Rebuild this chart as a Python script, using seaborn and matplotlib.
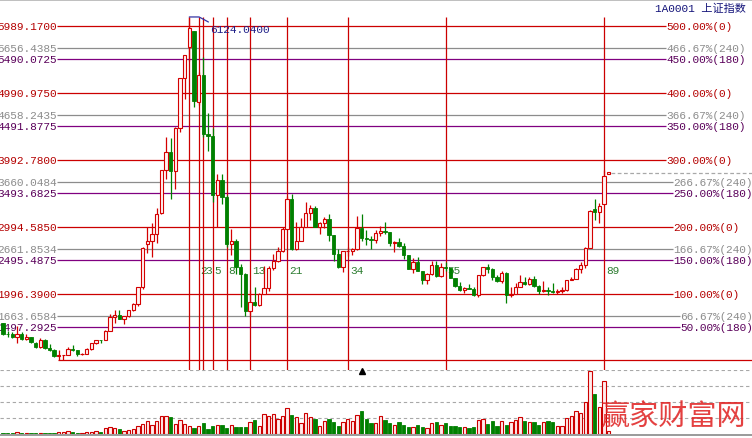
import matplotlib
matplotlib.use("Agg")
import matplotlib.pyplot as plt
from matplotlib.lines import Line2D
import numpy as np
import seaborn as sns

# 1A0001 monthly candles, Jun 2004 .. Apr 2015 (last month only just started)
opens = [1555, 1399, 1386, 1342, 1396, 1320, 1340,
         1261, 1191, 1306, 1181, 1159, 1060, 1080, 1083, 1162, 1155, 1092, 1099,
         1163, 1258, 1299, 1298, 1440, 1641, 1672, 1612, 1658, 1752, 1837, 2099,
         2728, 2786, 2881, 3196, 3841, 4109, 3820, 4471, 5218, 5683, 5914, 4861,
         5265, 4383, 4348, 3473, 3693, 3433, 2736, 2775, 2397, 2293, 1729, 1871,
         1821, 1991, 2082, 2373, 2477, 2633, 2959, 3412, 2668, 2779, 2996, 3195,
         3277, 2989, 3051, 3109, 2870, 2592, 2398, 2637, 2638, 2656, 2979, 2820,
         2808, 2790, 2905, 2928, 2911, 2743, 2762, 2701, 2567, 2359, 2468, 2333,
         2199, 2292, 2428, 2262, 2396, 2373, 2225, 2103, 2047, 2086, 2069, 1980,
         2269, 2385, 2366, 2237, 2178, 2301, 1979, 1994, 2098, 2175, 2141, 2220,
         2116, 2033, 2056, 2033, 2026, 2039, 2048, 2201, 2218, 2364, 2420, 2683,
         3258, 3210, 3332, 3775]
highs = [1561, 1435, 1417, 1512, 1417, 1389, 1343,
         1269, 1328, 1316, 1245, 1163, 1147, 1085, 1192, 1223, 1160, 1109, 1180,
         1260, 1305, 1309, 1445, 1684, 1757, 1754, 1660, 1753, 1848, 2101, 2698,
         2994, 3050, 3274, 3847, 4335, 4311, 4476, 5218, 5559, 6124, 5916, 5303,
         5523, 4695, 4473, 3786, 3786, 3461, 2952, 2810, 2435, 2302, 2050, 2100,
         2006, 2402, 2408, 2579, 2689, 2993, 3454, 3478, 3068, 3123, 3361, 3311,
         3306, 3063, 3138, 3181, 2877, 2655, 2637, 2696, 2682, 3160, 3186, 2951,
         2853, 2940, 3002, 3067, 2912, 2775, 2827, 2744, 2569, 2529, 2536, 2337,
         2301, 2478, 2476, 2454, 2461, 2382, 2227, 2166, 2089, 2133, 2089, 2276,
         2399, 2444, 2370, 2269, 2334, 2313, 2092, 2149, 2270, 2242, 2244, 2260,
         2120, 2177, 2093, 2146, 2061, 2087, 2205, 2248, 2373, 2474, 2693, 3239,
         3406, 3347, 3835, 3815]
lows = [1372, 1350, 1330, 1259, 1300, 1302, 1259,
        1177, 1189, 1166, 1135, 1044, 998, 1004, 1080, 1142, 1068, 1074, 1097,
        1159, 1243, 1261, 1297, 1437, 1550, 1617, 1541, 1643, 1740, 1810, 2071,
        2605, 2541, 2745, 3190, 3705, 3404, 3563, 4405, 4897, 5462, 4778, 4812,
        4330, 4123, 3357, 2990, 3333, 2693, 2566, 2284, 1802, 1665, 1679, 1814,
        1814, 1991, 2037, 2354, 2462, 2620, 2959, 2639, 2640, 2779, 2990, 3093,
        2986, 2890, 2969, 2781, 2481, 2382, 2319, 2561, 2573, 2650, 2774, 2721,
        2661, 2755, 2848, 2880, 2705, 2610, 2684, 2508, 2359, 2307, 2331, 2143,
        2132, 2280, 2242, 2242, 2333, 2223, 2100, 2040, 1999, 2062, 1959, 1949,
        2264, 2300, 2205, 2162, 2160, 1849, 1951, 1990, 2097, 2127, 2123, 2101,
        1985, 2022, 1974, 2009, 1991, 2010, 2037, 2194, 2211, 2304, 2380, 2679,
        3095, 3050, 3332, 3775]
closes = [1399, 1386, 1342, 1396, 1320, 1340, 1266,
          1191, 1306, 1181, 1159, 1060, 1080, 1083, 1162, 1155, 1092, 1099, 1161,
          1258, 1299, 1298, 1440, 1641, 1672, 1612, 1658, 1752, 1837, 2099, 2675,
          2786, 2881, 3183, 3841, 4109, 3820, 4471, 5218, 5552, 5954, 4871, 5262,
          4383, 4348, 3473, 3693, 3433, 2736, 2775, 2397, 2293, 1729, 1871, 1821,
          1991, 2082, 2373, 2477, 2633, 2959, 3412, 2668, 2779, 2996, 3195, 3277,
          2989, 3051, 3109, 2870, 2592, 2398, 2637, 2638, 2656, 2979, 2820, 2808,
          2790, 2905, 2928, 2911, 2743, 2762, 2701, 2567, 2359, 2468, 2333, 2199,
          2292, 2428, 2262, 2396, 2373, 2225, 2103, 2047, 2086, 2069, 1980, 2269,
          2385, 2366, 2237, 2178, 2301, 1979, 1994, 2098, 2175, 2141, 2220, 2116,
          2033, 2056, 2033, 2026, 2039, 2048, 2201, 2218, 2364, 2420, 2683, 3235,
          3210, 3310, 3748, 3810]
# volume, read as bar height (panel top = 64)
volumes = [1.5, 1.0, 1.0, 2.2, 1.5, 1.5, 1.0,
           1.0, 1.5, 1.5, 1.5, 1.0, 2.5, 2.0, 3.5, 2.5, 1.5, 1.5, 2.5,
           2.5, 3.0, 2.5, 6.0, 7.0, 6.0, 5.0, 3.5, 4.0, 5.0, 8.0, 10.0,
           13.0, 9.0, 13.0, 18.0, 18.0, 17.0, 10.0, 14.0, 10.0, 8.0, 6.0, 7.7,
           10.7, 5.0, 7.7, 9.0, 9.0, 6.0, 9.0, 6.7, 6.7, 6.7, 11.7, 14.0,
           8.3, 20.0, 17.7, 20.0, 15.0, 17.7, 26.0, 19.0, 16.7, 10.7, 20.7, 16.7,
           15.0, 7.7, 12.7, 15.0, 11.7, 7.7, 11.7, 15.0, 13.3, 19.0, 23.3, 15.0,
           10.7, 10.7, 17.7, 14.0, 10.7, 9.3, 11.7, 9.3, 6.7, 6.7, 9.0, 6.7,
           5.7, 10.7, 11.7, 9.0, 10.7, 7.7, 7.7, 7.0, 7.0, 6.5, 7.0, 14.0,
           15.0, 10.0, 12.7, 8.0, 12.7, 9.0, 11.7, 14.3, 16.7, 12.7, 11.7, 11.7,
           9.0, 11.7, 12.7, 11.7, 8.0, 8.3, 15.7, 18.3, 23.3, 21.0, 31.7, 63.0,
           40.0, 27.0, 52.7, 3.3]

# gann-style levels measured from the 2005 low
base_low = 998.195
level_values = [5989.17, 5656.4385, 5490.0725, 4990.975, 4658.2435, 4491.8775,
                3992.78, 3660.0484, 3493.6825, 2994.585, 2661.8534, 2495.4875,
                1996.39, 1663.6584, 1497.2925]
level_pcts = ["500.00", "466.67", "450.00", "400.00", "366.67", "350.00",
              "300.00", "266.67", "250.00", "200.00", "166.67", "150.00",
              "100.00", "66.67", "50.00"]
level_periods = [0, 240, 180, 0, 240, 180, 0, 240, 180, 0, 240, 180, 0, 240, 180]

peak_index = 40
peak_high = 6124.04
fib_offsets = [0, 2, 3, 5, 8, 13, 21, 34, 55, 89]
last_price = 3795

RED = "#d40000"
GREEN = "#008000"
line_colors = {0: "#cc0000", 240: "#8c8c8c", 180: "#800080"}
text_colors = {0: "#b40000", 240: "#8c8c8c", 180: "#5a005a"}

W, H = 752, 439
sns.set_theme(style="white")
plt.rcParams["font.family"] = ["Liberation Mono", "Noto Sans CJK SC", "DejaVu Sans"]

fig = plt.figure(figsize=(W / 100, H / 100), dpi=100)
fig.patch.set_facecolor("white")
ax = fig.add_axes([0, (H - 371) / H, 1, 371 / H])
axv = fig.add_axes([0, (H - 435) / H, 1, 64 / H])

n = len(closes)
x = np.arange(n)
o, h, l, c = map(np.asarray, (opens, highs, lows, closes))
up = c >= o

# pixel -> data mapping used by the source chart
px_per_bar = 4.66
x0_px = 2.9
xlim = ((0 - x0_px) / px_per_bar, (W - x0_px) / px_per_bar)
k = 0.067
ytop = 5989.17 + 27 / k
ybot = 5989.17 - (371 - 27) / k

for a in (ax, axv):
    a.set_xlim(*xlim)
    a.set_xticks([])
    a.set_yticks([])
    a.set_facecolor("white")
    sns.despine(ax=a, left=True, bottom=True)
ax.set_ylim(ybot, ytop)
axv.set_ylim(0, 64)

# horizontal levels with labels on both sides
ytr = ax.get_yaxis_transform()
for val, pct, per in zip(level_values, level_pcts, level_periods):
    p = float(pct)
    start_px = 666 if p >= 300 else (673 if p >= 100 else 680)
    ax.hlines(val, 57 / W, start_px / W, transform=ytr, color=line_colors[per], lw=0.9, zorder=1)
    ax.text(57 / W, val, f"{val:.4f}", transform=ytr, ha="right", va="center",
            fontsize=8, color=text_colors[per])
    ax.text((start_px + 0.5) / W, val, f"{pct}%({per})", transform=ytr, ha="left", va="center",
            fontsize=8, color=text_colors[per])
ax.hlines(base_low, 11.85, xlim[1], color="#cc0000", lw=0.9, zorder=1)

# fibonacci time lines from the 2007 top
for off in fib_offsets:
    xi = peak_index + off
    ax.vlines(xi, ybot, peak_high, color="#cc0000", lw=0.9, zorder=2)
    if off > 0:
        ax.text(xi + 0.45, 2347, str(off), ha="left", va="center", fontsize=8, color="#2e7d32", zorder=2)

# candles
ax.vlines(x[up], l[up], h[up], color=RED, lw=0.9, zorder=3)
ax.vlines(x[~up], l[~up], h[~up], color=GREEN, lw=0.9, zorder=3)
ax.bar(x[up], np.maximum(c[up] - o[up], 1), bottom=o[up], width=0.72,
       facecolor="#fff4f4", edgecolor=RED, lw=0.8, zorder=4)
ax.bar(x[~up], o[~up] - c[~up], bottom=c[~up], width=0.72,
       facecolor=GREEN, edgecolor=GREEN, lw=0.6, zorder=4)

# top marker and last price line
ax.plot([peak_index, peak_index + 2.1, peak_index + 4.1], [peak_high, peak_high, peak_high - 75],
        color="#3434a4", lw=0.9, zorder=5)
ax.text(peak_index + 4.4, 5937, f"{peak_high:.4f}", ha="left", va="center", fontsize=8, color="#202088")
ax.hlines(last_price, n - 0.5, xlim[1], color="#a8a8a8", lw=0.9, linestyles=(0, (3, 2)), zorder=1)

# volume panel
vol = np.asarray(volumes)
for g in (16, 32, 48, 63.6):
    axv.axhline(g, color="#a8a8a8", lw=0.8, ls=(0, (3, 2.5)), zorder=0)
axv.bar(x[up], vol[up], width=0.72, facecolor="#ffecec", edgecolor="#cc0000", lw=0.8, zorder=3)
axv.bar(x[~up], vol[~up], width=0.72, facecolor=GREEN, edgecolor=GREEN, lw=0.6, zorder=3)
axv.plot([77], [62.6], marker="^", ms=4.5, color="black", zorder=5, clip_on=False)

fig.add_artist(Line2D([0, 1], [1 - 1 / H] * 2, transform=fig.transFigure, color="#b4b4b4", lw=1.2))
fig.add_artist(Line2D([0, 1], [1 - 436 / H] * 2, transform=fig.transFigure, color="#9a9a9a", lw=1.4))

fig.text(655 / W, 1 - 8.5 / H, "1A0001 上证指数", ha="left", va="center", fontsize=8, color="#14147a")
fig.text(674 / W, 1 - 417 / H, "赢家财富网", ha="center", va="center", fontsize=21,
         color="#e02020", family=["Noto Sans CJK SC"], alpha=0.85, zorder=10)

fig.savefig("out.png", dpi=100)
